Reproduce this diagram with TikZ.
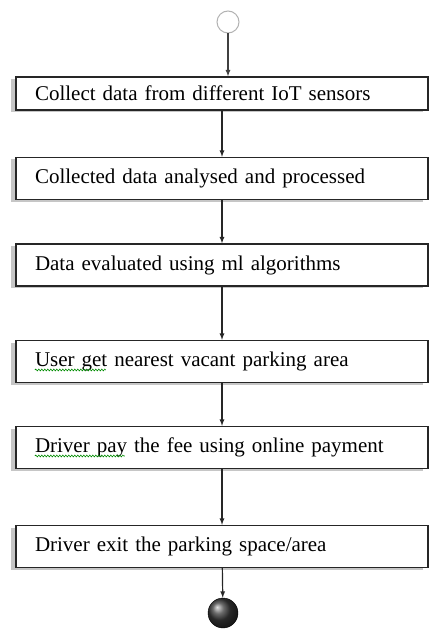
\documentclass[tikz,border=0pt]{standalone}
\usepackage{fontspec}
\setmainfont{Liberation Serif}
\usetikzlibrary{shadows,decorations.pathmorphing}

\begin{document}
\begin{tikzpicture}[
    x=1pt, y=-1pt,
    >=latex,
    stepbox/.style={draw=black!85, line width=1.3pt, fill=white, rectangle, minimum height=42pt,
        text width=374pt, inner xsep=19pt, inner ysep=0pt, align=left,
        font=\fontsize{21}{24}\selectfont,
        drop shadow={shadow xshift=-5pt, shadow yshift=-2pt, fill=gray!45, opacity=1}},
    flow/.style={->, line width=1.2pt, black!85},
    squiggle/.style={green!55!black, line width=0.6pt, decorate,
        decoration={snake, amplitude=0.9pt, segment length=3pt}}
]
    \useasboundingbox (0,0) rectangle (433,639);

    % start and end
    \node[draw=gray!60, line width=1pt, fill=white, circle, minimum size=22pt, inner sep=0pt] (start) at (228,22) {};
    \node[draw=black, circle, minimum size=30pt, inner sep=0pt, shading=ball, ball color=gray!45!black] (stop) at (223,613) {};

    % steps
    \node[stepbox, minimum height=33pt] (collect) at (222,93.5) {Collect data from different IoT sensors};
    \node[stepbox] (analyse) at (222,178.5) {Collected data analysed and processed};
    \node[stepbox] (evaluate) at (222,265) {Data evaluated using ml algorithms};
    \node[stepbox] (nearest) at (222,361.5) {User get nearest vacant parking area};
    \node[stepbox] (pay) at (222,447.5) {Driver pay the fee using online payment};
    \node[stepbox] (exit) at (222,546.5) {Driver exit the parking space/area};

    % spell-check marks
    \draw[squiggle] ([xshift=19.5pt, yshift=-8.5pt]nearest.west) -- ++(71,0);
    \draw[squiggle] ([xshift=19.5pt, yshift=-8.5pt]pay.west) -- ++(90,0);

    % arrows
    \draw[flow, gray!50!black] (start) -- (start |- collect.north);
    \draw[flow] (collect) -- (analyse);
    \draw[flow] (analyse) -- (evaluate);
    \draw[flow] (evaluate) -- (nearest);
    \draw[flow] (nearest) -- (pay);
    \draw[flow] (pay) -- (exit);
    \draw[flow] (exit) -- (stop);

\end{tikzpicture}
\end{document}
